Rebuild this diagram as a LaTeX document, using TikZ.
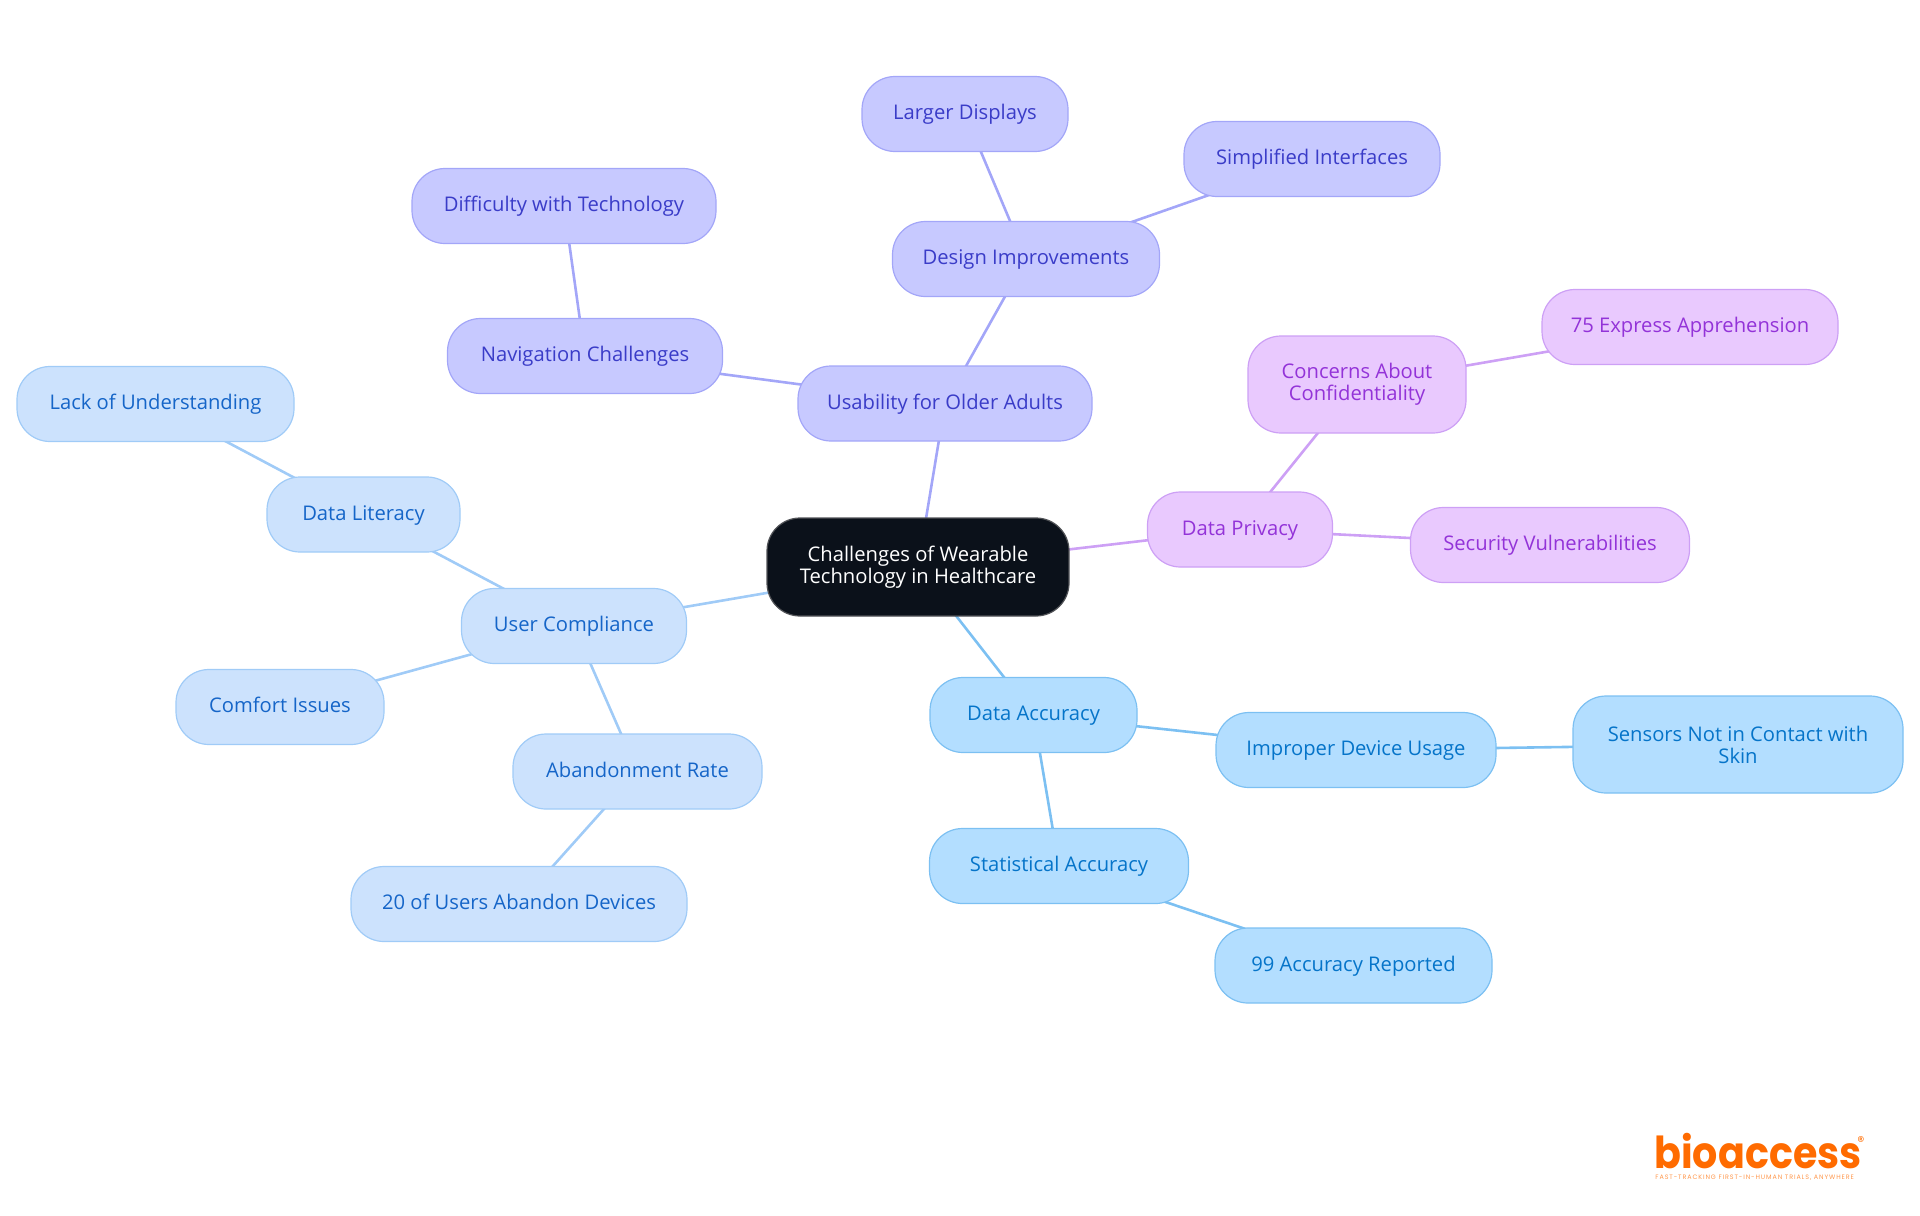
\documentclass[tikz,border=0pt]{standalone}
\usepackage{fontspec}
\setmainfont{Open Sans}
\newfontfamily\logofont{Poppins}
\newfontfamily\tagfont[LetterSpace=14]{Poppins}
\usetikzlibrary{backgrounds}
\definecolor{RootInk}{HTML}{0B111A}
\definecolor{UserFill}{HTML}{CCE2FD}
\definecolor{UserLine}{HTML}{A0CBF7}
\definecolor{UserText}{HTML}{1565C8}
\definecolor{OlderFill}{HTML}{C7C9FF}
\definecolor{OlderLine}{HTML}{A3A6F8}
\definecolor{OlderText}{HTML}{3A3CC8}
\definecolor{PrivacyFill}{HTML}{E9C9FE}
\definecolor{PrivacyLine}{HTML}{CDA0F5}
\definecolor{PrivacyText}{HTML}{9333D8}
\definecolor{AccuracyFill}{HTML}{B3DEFF}
\definecolor{AccuracyLine}{HTML}{7CC0F2}
\definecolor{AccuracyText}{HTML}{0574C9}
\definecolor{LogoOrange}{HTML}{FF6B00}

\begin{document}
\begin{tikzpicture}[
    x=0.5pt, y=-0.5pt,
    font=\fontsize{10.1}{11}\selectfont,
    rootcard/.style={draw=gray!60!RootInk, fill=RootInk, text=white, rounded corners=16.5pt, line width=0.6pt, align=center, inner sep=0pt, minimum width=151pt, minimum height=49pt},
    usercard/.style={draw=UserLine, fill=UserFill, text=UserText, rounded corners=16.5pt, line width=0.6pt, align=center, inner sep=0pt, minimum height=37.5pt, text height=7.8pt, text depth=2pt},
    oldercard/.style={usercard, draw=OlderLine, fill=OlderFill, text=OlderText},
    privacycard/.style={usercard, draw=PrivacyLine, fill=PrivacyFill, text=PrivacyText},
    accuracycard/.style={usercard, draw=AccuracyLine, fill=AccuracyFill, text=AccuracyText},
    tallcard/.style={text height=, text depth=, minimum height=48.5pt},
    link/.style={line width=1.3pt}
]
  \useasboundingbox (0,0) rectangle (1920,1215);

  % -------------------------------------------------------------
  % ROOT
  % -------------------------------------------------------------
  \node[rootcard] (n_root) at (918,567) {Challenges of Wearable\\Technology in Healthcare};

  % -------------------------------------------------------------
  % USABILITY FOR OLDER ADULTS
  % -------------------------------------------------------------
  \node[oldercard, minimum width=147pt] (n_older) at (945,403.5) {Usability for Older Adults};
  \node[oldercard, minimum width=137.5pt] (n_nav) at (585,356) {Navigation Challenges};
  \node[oldercard, minimum width=152pt] (n_diff) at (564,206) {Difficulty with Technology};
  \node[oldercard, minimum width=133.5pt] (n_design) at (1026,259) {Design Improvements};
  \node[oldercard, minimum width=103pt] (n_larger) at (965,114) {Larger Displays};
  \node[oldercard, minimum width=128pt] (n_simple) at (1312,159) {Simplified Interfaces};

  % -------------------------------------------------------------
  % DATA PRIVACY
  % -------------------------------------------------------------
  \node[privacycard, minimum width=92.5pt] (n_privacy) at (1240,529.5) {Data Privacy};
  \node[privacycard, tallcard, minimum width=109pt] (n_conf) at (1357,384.5) {Concerns About\\Confidentiality};
  \node[privacycard, minimum width=148pt] (n_appr) at (1690,327) {75 Express Apprehension};
  \node[privacycard, minimum width=139.5pt] (n_sec) at (1550,545) {Security Vulnerabilities};

  % -------------------------------------------------------------
  % DATA ACCURACY
  % -------------------------------------------------------------
  \node[accuracycard, minimum width=103.5pt] (n_acc) at (1033.5,715) {Data Accuracy};
  \node[accuracycard, minimum width=140pt] (n_device) at (1356,750) {Improper Device Usage};
  \node[accuracycard, tallcard, minimum width=165pt] (n_sensor) at (1738,744.5) {Sensors Not in Contact with\\Skin};
  \node[accuracycard, minimum width=129.5pt] (n_stat) at (1059,866) {Statistical Accuracy};
  \node[accuracycard, minimum width=138.5pt] (n_rep) at (1353.5,965.5) {99 Accuracy Reported};

  % -------------------------------------------------------------
  % USER COMPLIANCE
  % -------------------------------------------------------------
  \node[usercard, minimum width=112.5pt] (n_user) at (574,626) {User Compliance};
  \node[usercard, minimum width=96.5pt] (n_lit) at (363.5,514.5) {Data Literacy};
  \node[usercard, minimum width=138.5pt] (n_lack) at (155.5,404) {Lack of Understanding};
  \node[usercard, minimum width=104pt] (n_comfort) at (280,707) {Comfort Issues};
  \node[usercard, minimum width=124.5pt] (n_aband) at (637.5,771.5) {Abandonment Rate};
  \node[usercard, minimum width=168pt] (n_users) at (519,904) {20 of Users Abandon Devices};

  % connectors go under the cards
  \begin{scope}[on background layer]
    \foreach \from/\to in {n_root/n_older, n_older/n_nav, n_nav/n_diff, n_older/n_design, n_design/n_larger, n_design/n_simple}
      \draw[link, OlderLine] (\from.center) -- (\to.center);
    \foreach \from/\to in {n_root/n_privacy, n_privacy/n_conf, n_conf/n_appr, n_privacy/n_sec}
      \draw[link, PrivacyLine] (\from.center) -- (\to.center);
    \foreach \from/\to in {n_root/n_acc, n_acc/n_device, n_device/n_sensor, n_acc/n_stat, n_stat/n_rep}
      \draw[link, AccuracyLine] (\from.center) -- (\to.center);
    \foreach \from/\to in {n_root/n_user, n_user/n_lit, n_lit/n_lack, n_user/n_comfort, n_user/n_aband, n_aband/n_users}
      \draw[link, UserLine] (\from.center) -- (\to.center);
  \end{scope}

  % -------------------------------------------------------------
  % LOGO
  % -------------------------------------------------------------
  \node[text=LogoOrange, anchor=base west, inner sep=0pt, font=\logofont\bfseries\fontsize{22}{22}\selectfont] (n_logo) at (1654,1168) {\scalebox{0.9}[1]{bioaccess}};
  \node[text=LogoOrange, inner sep=0pt, font=\logofont\fontsize{7}{7}\selectfont] (n_mark) at (1861,1142) {®};
  \node[text=LogoOrange!70, anchor=base west, inner sep=0pt, font=\tagfont\fontsize{3.2}{3.2}\selectfont] (n_tag) at (1655,1179) {FAST-TRACKING FIRST-IN-HUMAN TRIALS, ANYWHERE};
\end{tikzpicture}
\end{document}
